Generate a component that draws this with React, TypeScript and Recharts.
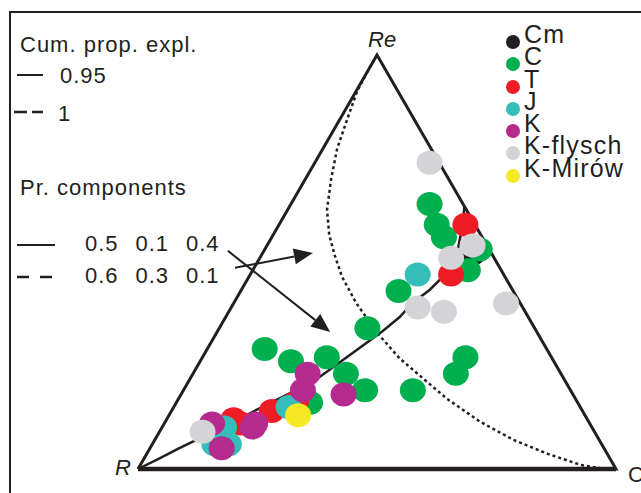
import { ScatterChart, Scatter, XAxis, YAxis, ReferenceLine } from "recharts";

const W = 641;
const H = 493;
const INK = "#231f20";
const FONT = "'Liberation Sans', Arial, sans-serif";

// sample compositions, [R, Re, C] in %
const CM_SAMPLES = [[4, 52, 44]];
const C_SAMPLES = [
  [7, 64, 29], [8, 59, 33], [8, 56, 36], [2, 53, 45], [7, 48, 45],
  [24, 43, 33], [18, 27, 55], [22, 23, 55], [33, 19, 48], [35, 34, 31],
  [59, 29, 12], [55, 26, 19], [47, 27, 26], [45, 23, 32], [43, 19, 38],
  [56, 16, 28],
];
const T_SAMPLES = [[2, 59, 39], [11, 47, 42], [59, 16, 25], [65, 14, 21], [74, 12, 14], [73, 11, 16]];
const J_SAMPLES = [[18, 47, 35], [61, 15, 24], [77, 10, 13], [81, 6, 13], [78, 6, 16]];
const K_SAMPLES = [[53, 23, 24], [56, 19, 25], [48, 18, 34], [70, 11, 19], [71, 10, 19], [79, 11, 10], [80, 5, 15]];
const KF_SAMPLES = [[2, 74, 24], [3, 54, 43], [9, 51, 40], [3, 40, 57], [22, 39, 39], [17, 38, 45], [82, 9, 9]];
const KM_SAMPLES = [[60, 13, 27]];

// principal curves, [Re, C] in %
const CURVE_095 = [
  [0, 0], [2.4, 3.0], [4.9, 6.0], [7.3, 9.0], [10.7, 13.6], [14.6, 18.0],
  [18.2, 22.5], [22.1, 26.8], [27.5, 30.5], [33.3, 34.5], [36.7, 36.4],
  [40.1, 37.4], [43.3, 39.4], [47.4, 40.9], [53.0, 40.4], [57.9, 38.8], [63.4, 36.6],
];
const CURVE_1 = [
  [100, 0], [96.3, 0], [91.4, 0.2], [84.6, 1.5], [77.3, 3.0], [70.0, 5.4],
  [62.7, 8.2], [56.6, 11.7], [51.8, 15.2], [46.4, 19.5], [40.1, 25.6],
  [32.8, 33.7], [26.7, 41.4], [22.6, 47.6], [17.0, 56.1], [11.4, 65.9],
  [7.05, 75.0], [3.65, 83.9], [1.0, 92.1], [0.2, 96.7], [0, 99.4],
];
const VERTICES = [[100, 0, 0], [0, 100, 0], [0, 0, 100], [100, 0, 0]];

// arrows in plane units [x, Re]
const ARROWS = [
  [[20.3, 48.6], [36.6, 52.2]],
  [[18.8, 52.7], [40.2, 33.1]],
];

const LEGEND_NAMES = ["Cm", "C", "T", "J", "K", "K-flysch", "K-Mirów"];
const LEGEND_COLORS = ["#231f20", "#00b04f", "#ee1c25", "#35bdb9", "#b52a8e", "#d4d4d6", "#f7e825"];
const PC_ROWS = [["0.5", "0.1", "0.4"], ["0.6", "0.3", "0.1"]];

const fromTriple = (s: number[]) => ({ x: s[2] + s[1] / 2, re: s[1] });
const fromPair = (p: number[]) => ({ x: p[1] + p[0] / 2, re: p[0] });

const SERIES = [CM_SAMPLES, C_SAMPLES, T_SAMPLES, J_SAMPLES, K_SAMPLES, KF_SAMPLES, KM_SAMPLES];

const dot = (color: string) => (p: any) => (
  <ellipse cx={p.cx} cy={p.cy} rx={13} ry={12} fill={color} />
);
const none = () => <g />;

const arrowShape = (p: any) => {
  const { x1, y1, x2, y2 } = p;
  const a = Math.atan2(y2 - y1, x2 - x1);
  const len = 19;
  const hw = 8;
  const bx = x2 - len * Math.cos(a);
  const by = y2 - len * Math.sin(a);
  const nx = -Math.sin(a) * hw;
  const ny = Math.cos(a) * hw;
  return (
    <g>
      <line x1={x1} y1={y1} x2={bx} y2={by} stroke={INK} strokeWidth={2} />
      <polygon points={`${x2},${y2} ${bx + nx},${by + ny} ${bx - nx},${by - ny}`} fill={INK} />
    </g>
  );
};

export default function App() {
  const legendBase = [43, 65, 88, 110, 132, 154, 177];
  return (
    <div style={{ position: "absolute", left: 0, top: 0, width: W, height: H, background: "#fff" }}>
      <svg width={W} height={H} style={{ position: "absolute", left: 0, top: 0 }} fontFamily={FONT} fill={INK}>
        <path d={`M10,${H} V12 H${W}`} fill="none" stroke={INK} strokeWidth={2} />
        <text x={20} y={52} fontSize={22} letterSpacing={1}>Cum. prop. expl.</text>
        <line x1={17} y1={75} x2={43} y2={75} stroke={INK} strokeWidth={2} />
        <text x={60} y={83} fontSize={22} letterSpacing={1}>0.95</text>
        <line x1={14} y1={112} x2={43} y2={112} stroke={INK} strokeWidth={2.5} strokeDasharray="13 5" />
        <text x={58} y={121} fontSize={22}>1</text>
        <text x={20} y={195} fontSize={22} letterSpacing={1}>Pr. components</text>
        <line x1={17} y1={245} x2={55} y2={245} stroke={INK} strokeWidth={2} />
        <line x1={17} y1={277} x2={53} y2={277} stroke={INK} strokeWidth={2.5} strokeDasharray="12 11" />
        {PC_ROWS.map((row, i) =>
          row.map((v, j) => (
            <text key={`${i}-${j}`} x={85 + j * 50.5} y={251 + i * 32} fontSize={22} letterSpacing={1}>
              {v}
            </text>
          ))
        )}
        <text x={368} y={47} fontSize={22} fontStyle="italic">Re</text>
        <text x={115} y={475} fontSize={22} fontStyle="italic">R</text>
        <text x={628} y={482} fontSize={22}>C</text>
        {LEGEND_NAMES.map((n, i) => (
          <g key={n}>
            <circle cx={513} cy={legendBase[i] - 1} r={7} fill={LEGEND_COLORS[i]} />
            <text x={524} y={legendBase[i]} fontSize={25} letterSpacing={1.2}>{n}</text>
          </g>
        ))}
      </svg>
      <div style={{ position: "absolute", left: 0, top: 0 }}>
        <ScatterChart width={W} height={H} margin={{ top: 55, right: 25, bottom: 24, left: 138 }}>
          <XAxis type="number" dataKey="x" domain={[0, 100]} hide />
          <YAxis type="number" dataKey="re" domain={[0, 100]} hide />
          <Scatter
            data={VERTICES.map(fromTriple)}
            line={{ stroke: INK, strokeWidth: 3, strokeLinejoin: "miter" }}
            lineType="joint"
            shape={none}
            isAnimationActive={false}
          />
          <Scatter
            data={[VERTICES[0], VERTICES[2]].map(fromTriple)}
            line={{ stroke: INK, strokeWidth: 4.5 }}
            lineType="joint"
            shape={none}
            isAnimationActive={false}
          />
          <Scatter
            data={CURVE_1.map(fromPair)}
            line={{ stroke: INK, strokeWidth: 2.5, strokeDasharray: "3 3" }}
            lineType="joint"
            shape={none}
            isAnimationActive={false}
          />
          <Scatter
            data={CURVE_095.map(fromPair)}
            line={{ stroke: INK, strokeWidth: 2.5 }}
            lineType="joint"
            shape={none}
            isAnimationActive={false}
          />
          {ARROWS.map((a, i) => (
            <ReferenceLine
              key={i}
              segment={[{ x: a[0][0], y: a[0][1] }, { x: a[1][0], y: a[1][1] }]}
              shape={arrowShape}
            />
          ))}
          {SERIES.map((s, i) => (
            <Scatter
              key={LEGEND_NAMES[i]}
              name={LEGEND_NAMES[i]}
              data={s.map(fromTriple)}
              shape={dot(LEGEND_COLORS[i])}
              isAnimationActive={false}
            />
          ))}
        </ScatterChart>
      </div>
    </div>
  );
}
